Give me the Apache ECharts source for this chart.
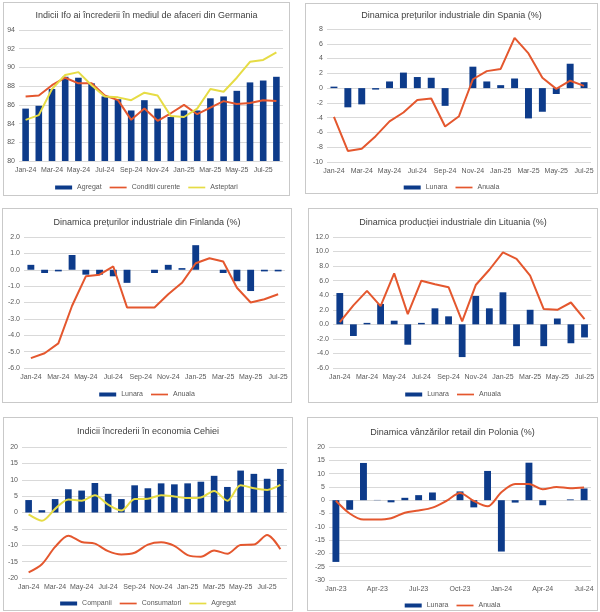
<!DOCTYPE html>
<html><head><meta charset="utf-8">
<script src="https://cdn.jsdelivr.net/npm/echarts@6/dist/echarts.min.js"></script>
<style>
html,body{margin:0;padding:0;background:#fff;width:600px;height:612px;overflow:hidden;}
.p{position:absolute;border:1px solid #c9c9c9;box-sizing:border-box;background:#fff;}
</style></head><body>
<div id="c1" class="p" style="left:3px;top:2px;width:287px;height:194px"></div>
<div id="c2" class="p" style="left:305px;top:3px;width:293px;height:191px"></div>
<div id="c3" class="p" style="left:2px;top:208px;width:290px;height:195px"></div>
<div id="c4" class="p" style="left:308px;top:208px;width:290px;height:195px"></div>
<div id="c5" class="p" style="left:3px;top:417px;width:290px;height:194px"></div>
<div id="c6" class="p" style="left:307px;top:417px;width:291px;height:194px"></div>
<script>
// ---- categories ----
var months20 = ['Jan-24','Feb-24','Mar-24','Apr-24','May-24','Jun-24','Jul-24','Aug-24','Sep-24','Oct-24','Nov-24','Dec-24','Jan-25','Feb-25','Mar-25','Apr-25','May-25','Jun-25','Jul-25','Aug-25'];
var months19 = ['Jan-24','Feb-24','Mar-24','Apr-24','May-24','Jun-24','Jul-24','Aug-24','Sep-24','Oct-24','Nov-24','Dec-24','Jan-25','Feb-25','Mar-25','Apr-25','May-25','Jun-25','Jul-25'];
var monthsPL = ['Jan-23','Feb-23','Mar-23','Apr-23','May-23','Jun-23','Jul-23','Aug-23','Sep-23','Oct-23','Nov-23','Dec-23','Jan-24','Feb-24','Mar-24','Apr-24','May-24','Jun-24','Jul-24'];

// ---- Germany Ifo ----
var deAgregat = [85.6,85.9,87.7,89.0,88.9,88.3,86.9,86.6,85.4,86.5,85.6,84.7,85.4,85.4,86.7,86.9,87.5,88.4,88.6,89.0];
var deConditii = [86.9,87.0,88.1,88.9,88.3,88.3,87.0,86.5,84.4,85.6,84.3,85.1,86.0,85.0,85.7,86.4,86.1,86.2,86.5,86.4];
var deAsteptari = [84.4,84.9,87.7,89.2,89.5,88.1,86.9,86.8,86.5,87.3,87.0,84.8,84.7,85.6,87.7,87.4,88.9,90.6,90.8,91.6];

// ---- Spain PPI ----
var esLunara = [0.2,-2.6,-2.2,-0.2,0.9,2.1,1.5,1.4,-2.4,0.0,2.9,0.9,0.4,1.3,-4.1,-3.2,-0.8,3.3,0.8];
var esAnuala = [-3.9,-8.5,-8.2,-6.5,-4.5,-3.3,-1.6,-1.4,-5.2,-3.8,1.2,2.3,2.6,6.8,4.7,1.4,-0.1,1.0,0.3];

// ---- Finland PPI ----
var fiLunara = [0.3,-0.2,-0.1,0.9,-0.3,-0.3,-0.4,-0.8,0.0,-0.2,0.3,0.1,1.5,0.0,-0.2,-0.7,-1.3,-0.1,-0.1];
var fiAnuala = [-5.4,-5.1,-4.5,-2.2,-0.4,-0.3,0.2,-2.3,-2.3,-2.3,-1.5,-0.8,0.4,0.7,0.5,-1.1,-2.0,-1.8,-1.5];

// ---- Lithuania industrial production ----
var ltLunara = [4.3,-1.6,0.2,2.8,0.5,-2.8,0.2,2.2,1.1,-4.5,3.9,2.2,4.4,-3.0,2.0,-3.0,0.8,-2.6,-1.8];
var ltAnuala = [0.3,2.6,4.6,2.5,7.0,1.4,6.0,5.5,5.1,0.4,5.4,7.5,9.9,9.0,6.7,2.1,2.0,3.0,0.7];

// ---- Czech confidence ----
var czCompanii = [3.8,0.7,4.1,7.1,6.7,9.0,5.7,4.1,8.3,7.4,8.9,8.6,8.9,9.4,11.2,7.8,12.8,11.8,10.3,13.3];
var czConsumatori = [-18.3,-15.8,-10.5,-7.1,-9.0,-9.5,-11.8,-12.8,-12.3,-9.8,-9.1,-10.2,-13.0,-13.5,-11.6,-12.6,-9.9,-9.8,-6.9,-11.2];
var czAgregat = [-0.6,-2.5,1.1,4.0,3.6,5.3,2.4,0.6,4.1,4.2,5.3,4.9,4.4,4.6,6.6,3.6,8.3,7.4,6.9,8.4];

// ---- Poland retail sales ----
var plLunara = [-23.2,-3.6,14.0,0.1,-0.8,0.9,1.9,2.9,-0.1,3.3,-2.7,11.0,-19.3,-0.9,14.1,-1.9,0.0,0.3,4.4];
var plAnuala = [-0.2,-5.0,-7.3,-7.3,-6.8,-4.7,-3.9,-2.8,-0.3,2.7,-0.3,-2.3,3.0,6.1,6.1,4.1,5.0,4.5,4.8];

var BLUE = '#0d3b8a', RED = '#e4572e', YEL = '#e6dc45';
var FONT = '"Liberation Sans", Arial, sans-serif';
var TXT = '#595959';
var LINE_ICON = 'path://M0,0H40V4H0Z';

function build(id, o) {
  var ch = echarts.init(document.getElementById(id), null, {renderer:'canvas'});
  var series = o.series.map(function(s){
    if (s.type === 'bar') {
      return {name:s.name, type:'bar', data:s.data, barWidth:'50%', itemStyle:{color:BLUE}, z:1};
    }
    return {name:s.name, type:'line', data:s.data, symbol:'none', showSymbol:false, smooth:o.smooth||false,
      lineStyle:{color:s.color, width:2}, itemStyle:{color:s.color}, z:3};
  });
  ch.setOption({
    animation:false,
    textStyle:{fontFamily:FONT},
    title:{text:o.title, left:'center', top:o.titleTop, padding:0,
      textStyle:{fontSize:9, fontWeight:'normal', color:'#404040', fontFamily:FONT}},
    legend:{top:o.legendTop, left:'center', padding:0, itemWidth:17, itemHeight:4, itemGap:8,
      symbolKeepAspect:true,
      textStyle:{fontSize:7, color:TXT, fontFamily:FONT},
      data:o.series.map(function(s){return s.type==='bar'?{name:s.name, icon:'rect'}:{name:s.name, icon:LINE_ICON, itemStyle:{color:s.color}};})},
    grid:{left:o.grid[0], top:o.grid[1], right:o.grid[2], bottom:o.grid[3], containLabel:false},
    xAxis:{type:'category', data:o.cats, boundaryGap:true,
      axisLine:{show:false}, axisTick:{show:false},
      axisLabel:{interval:o.xInterval, fontSize:7, color:TXT, margin:6, fontFamily:FONT}},
    yAxis:{type:'value', min:o.min, max:o.max, interval:o.interval,
      axisLine:{show:false}, axisTick:{show:false},
      splitLine:{lineStyle:{color:'#d9d9d9', width:1}},
      axisLabel:{fontSize:7, color:TXT, margin:4, fontFamily:FONT,
        formatter:function(v){return o.dec ? v.toFixed(o.dec) : String(v);}}},
    series:series
  });
}

build('c1', {title:'Indicii Ifo ai încrederii în mediul de afaceri din Germania', cats:months20, xInterval:1,
  titleTop:8, legendTop:181,
  min:80, max:94, interval:2, grid:[15,27,6,34],
  series:[{type:'bar',name:'Agregat',data:deAgregat},{type:'line',name:'Conditii curente',data:deConditii,color:RED},{type:'line',name:'Asteptari',data:deAsteptari,color:YEL}]});

build('c2', {title:'Dinamica prețurilor industriale din Spania (%)', cats:months19, xInterval:1,
  titleTop:7, legendTop:180,
  min:-10, max:8, interval:2, grid:[21,25,6,31],
  series:[{type:'bar',name:'Lunara',data:esLunara},{type:'line',name:'Anuala',data:esAnuala,color:RED}]});

build('c3', {title:'Dinamica prețurilor industriale din Finlanda (%)', cats:months19, xInterval:1,
  titleTop:9, legendTop:182,
  min:-6, max:2, interval:1, dec:1, grid:[21,28,6,34],
  series:[{type:'bar',name:'Lunara',data:fiLunara},{type:'line',name:'Anuala',data:fiAnuala,color:RED}]});

build('c4', {title:'Dinamica producției industriale din Lituania (%)', cats:months19, xInterval:1,
  titleTop:9, legendTop:182,
  min:-6, max:12, interval:2, dec:1, grid:[24,28,4,34],
  series:[{type:'bar',name:'Lunara',data:ltLunara},{type:'line',name:'Anuala',data:ltAnuala,color:RED}]});

build('c5', {title:'Indicii încrederii în economia Cehiei', cats:months20, xInterval:1, smooth:0.3,
  titleTop:9, legendTop:182,
  min:-20, max:20, interval:5, grid:[18,29,5,32],
  series:[{type:'bar',name:'Companii',data:czCompanii},{type:'line',name:'Consumatori',data:czConsumatori,color:RED},{type:'line',name:'Agregat',data:czAgregat,color:YEL}]});

build('c6', {title:'Dinamica vânzărilor retail din Polonia (%)', cats:monthsPL, xInterval:2, smooth:0.3,
  titleTop:10, legendTop:184,
  min:-30, max:20, interval:5, grid:[21,29,6,30],
  series:[{type:'bar',name:'Lunara',data:plLunara},{type:'line',name:'Anuala',data:plAnuala,color:RED}]});
</script>
</body></html>
